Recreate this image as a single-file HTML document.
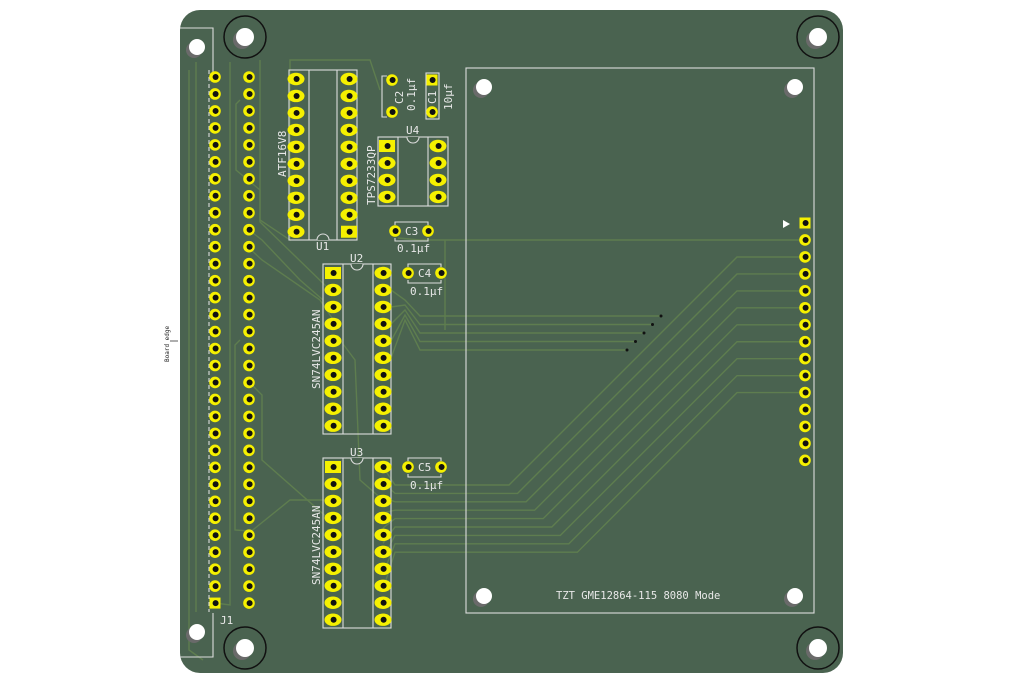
<!DOCTYPE html>
<html><head><meta charset="utf-8"><style>
html,body{margin:0;padding:0;background:#fff;width:1024px;height:683px;overflow:hidden}
svg{display:block}
text{font-family:"DejaVu Sans Mono","Liberation Mono",monospace;fill:#e8e8e8}
</style></head><body>
<svg id="s" width="1024" height="683" viewBox="0 0 1024 683" xmlns="http://www.w3.org/2000/svg">
<rect x="180" y="10" width="663" height="663" rx="20" fill="#4a6350"/>
<g id="tr" fill="none" stroke="#5e7d4f" stroke-width="1.4"></g>
<g id="sk" fill="none" stroke="#dcdcdc" stroke-width="1.1">
<polyline points="180,28 213,28 213,72"/>
<polyline points="213,613 213,657 180,657"/>
<rect x="289" y="70" width="68" height="170"/><line x1="309" y1="70" x2="309" y2="240"/><line x1="337" y1="70" x2="337" y2="240"/>
<rect x="323" y="264" width="68" height="170"/><line x1="343" y1="264" x2="343" y2="434"/><line x1="373" y1="264" x2="373" y2="434"/>
<rect x="323" y="458" width="68" height="170"/><line x1="343" y1="458" x2="343" y2="628"/><line x1="373" y1="458" x2="373" y2="628"/>
<rect x="378" y="137" width="70" height="69"/><line x1="398" y1="137" x2="398" y2="206"/><line x1="428" y1="137" x2="428" y2="206"/>
<rect x="466" y="68" width="348" height="545"/>
<polyline points="387,76 382,76 382,117 387,117"/>
<rect x="426" y="73" width="13" height="46"/>
<polyline points="395,225 395,222 428,222 428,225"/><polyline points="395,238 395,241 428,241 428,238"/>
<polyline points="408,267 408,264 441,264 441,267"/><polyline points="408,280 408,283 441,283 441,280"/>
<polyline points="408,461 408,458 441,458 441,461"/><polyline points="408,474 408,477 441,477 441,474"/>
<line x1="209" y1="70" x2="209" y2="612" stroke-dasharray="4,3"/>
</g>
<g fill="#4a6350" stroke="#dcdcdc" stroke-width="1.1">
<path d="M317,240 a6,6 0 0 1 12,0"/><path d="M351,264 a6,6 0 0 0 12,0"/><path d="M351,458 a6,6 0 0 0 12,0"/><path d="M407,137 a6,6 0 0 0 12,0"/>
</g>
<g id="pd"></g>
<g fill="none" stroke="#111" stroke-width="1.5">
<circle cx="245" cy="37" r="21"/><circle cx="818" cy="37" r="21"/><circle cx="245" cy="648" r="21"/><circle cx="818" cy="648" r="21"/>
</g>
<g id="holes"></g>
<g font-size="11">
<text x="316" y="250">U1</text><text x="350" y="262">U2</text><text x="350" y="456">U3</text><text x="406" y="134">U4</text>
<text x="220" y="624">J1</text>
<text x="405" y="235">C3</text><text x="418" y="277">C4</text><text x="418" y="471">C5</text>
<text x="397" y="252">0.1µf</text><text x="410" y="295">0.1µf</text><text x="410" y="489">0.1µf</text>
<text transform="translate(403,104) rotate(-90)">C2</text><text transform="translate(415,111) rotate(-90)">0.1µf</text>
<text transform="translate(436,104) rotate(-90)">C1</text><text transform="translate(452,110) rotate(-90)">10µf</text>
<text transform="translate(286,177) rotate(-90)">ATF16V8</text>
<text transform="translate(375,205) rotate(-90)">TPS7233QP</text>
<text transform="translate(320,389) rotate(-90)">SN74LVC245AN</text>
<text transform="translate(320,585) rotate(-90)">SN74LVC245AN</text>
<text x="556" y="599" font-size="10.5">TZT GME12864-115 8080 Mode</text>
<text transform="translate(169,362) rotate(-90)" font-size="6" style="fill:#222">Board edge</text>
</g>
<line x1="170" y1="341" x2="178" y2="341" stroke="#333" stroke-width="0.8"/>
<polygon points="783,220 783,228 790,224" fill="#fff"/>
</svg>
<script>
var NS="http://www.w3.org/2000/svg";
function el(p,t,a){var e=document.createElementNS(NS,t);for(var k in a)e.setAttribute(k,a[k]);document.getElementById(p).appendChild(e);return e;}
var Y="#f5f000";
function rnd(x,y,sq){if(sq)el("pd","rect",{x:x-5.5,y:y-5.5,width:11,height:11,fill:Y});else el("pd","circle",{cx:x,cy:y,r:5.8,fill:Y});el("pd","circle",{cx:x+0.6,cy:y,r:3,fill:"#111"});}
function ov(x,y,sq){if(sq)el("pd","rect",{x:x-8,y:y-6,width:16,height:12,fill:Y});else el("pd","ellipse",{cx:x,cy:y,rx:8.5,ry:6.2,fill:Y});el("pd","circle",{cx:x+0.6,cy:y,r:3,fill:"#111"});}
var P=16.97;
for(var i=0;i<32;i++){rnd(215,77+i*P,i==31);rnd(249,77+i*P,false);}
for(i=0;i<10;i++){ov(296,79+i*P,false);ov(349,79+i*P,i==9);ov(333,273+i*P,i==0);ov(383,273+i*P,false);ov(333,467+i*P,i==0);ov(383,467+i*P,false);}
for(i=0;i<4;i++){ov(387,146+i*P,i==0);ov(438,146+i*P,false);}
rnd(392,80);rnd(392,112);rnd(432,80,true);rnd(432,112);rnd(395,231);rnd(428,231);rnd(408,273);rnd(441,273);rnd(408,467);rnd(441,467);
for(i=0;i<15;i++)rnd(805,223+i*16.95,i==0);
[[197,47],[245,37],[818,37],[197,632],[245,648],[818,648],[484,87],[795,87],[484,596],[795,596]].forEach(function(h){
var r=(h[1]==37||h[1]==648)?9:8;el("holes","circle",{cx:h[0]-3,cy:h[1]+3,r:r,fill:"#6a6a6a"});el("holes","circle",{cx:h[0],cy:h[1],r:r,fill:"#fff"});});
function pl(pts){el("tr","polyline",{points:pts});}
pl("398,238 420,240 805,240");
for(i=0;i<9;i++){var y=257+i*16.95,yb=485+i*8.4,dx=yb-y;pl("805,"+y+" 737,"+y+" "+(737-dx)+","+yb+" 395,"+yb+" 383,"+(467+i*P*0.9));}
for(i=0;i<5;i++){var vy=316+i*8.5,vx=661-i*8.5;pl("391,"+(290+i*17)+" 405,"+(300+i*5)+" 420,"+vy+" "+vx+","+vy);el("pd","circle",{cx:vx,cy:vy,r:1.5,fill:"#111"});}
pl("189,70 189,650 203,660");pl("196,62 196,612");pl("230,62 230,605 215,603");
pl("240,100 236,104 236,170 260,190 260,220 290,240 290,60 370,60 380,90");
pl("249,230 262,240 300,280 323,300");pl("249,248 262,260 320,300 340,330");
pl("240,340 235,345 235,530 249,531");pl("249,382 262,395 262,460 330,520");
pl("260,60 260,222 330,290");pl("249,533 290,500 333,500");
pl("340,340 355,360 360,480 383,500");pl("445,240 445,330");
</script>
</body></html>
